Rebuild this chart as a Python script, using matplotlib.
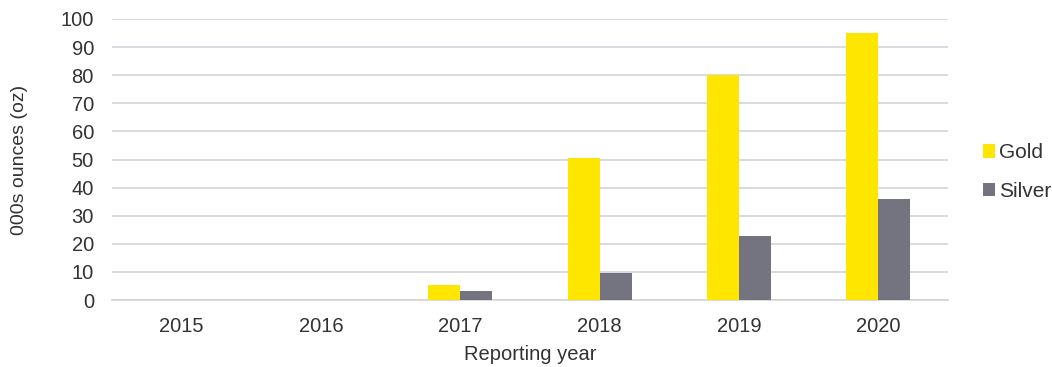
import matplotlib.pyplot as plt
import numpy as np

plt.rcParams['font.family'] = ['Liberation Sans', 'DejaVu Sans']

years = ['2015', '2016', '2017', '2018', '2019', '2020']
gold = [0, 0, 5.5, 50.6, 80, 95]
silver = [0, 0, 3.3, 9.5, 22.8, 36.0]

gold_color = '#FFE600'
silver_color = '#747480'
grid_color = '#D4D3DC'
text_color = '#333333'
fs = 14.5

fig = plt.figure(figsize=(10.52, 3.67), dpi=100)
ax = fig.add_axes([112 / 1052, 1 - 300 / 367, (948 - 112) / 1052, (300 - 19) / 367])

x = np.arange(len(years))
w = 0.23
ax.bar(x - w / 2, gold, width=w, color=gold_color, label='Gold', zorder=3)
ax.bar(x + w / 2, silver, width=w, color=silver_color, label='Silver', zorder=3)

ax.set_xlim(-0.5, len(years) - 0.5)
ax.set_ylim(0, 100)
ax.set_yticks(np.arange(0, 101, 10))
ax.set_xticks(x)
ax.set_xticklabels(years)
ax.yaxis.grid(True, color=grid_color, linewidth=1.2, zorder=0)
for s in ['top', 'right', 'left']:
    ax.spines[s].set_visible(False)
ax.spines['bottom'].set_color(grid_color)
ax.spines['bottom'].set_linewidth(1.2)
ax.tick_params(axis='y', length=0, labelsize=fs, colors=text_color, pad=13)
ax.tick_params(axis='x', length=0, labelsize=fs, colors=text_color, pad=12)

ax.set_xlabel('Reporting year', fontsize=fs, color=text_color)
ax.xaxis.set_label_coords(0.5, -0.16)
ax.set_ylabel('000s ounces (oz)', fontsize=fs - 0.5, color=text_color)
ax.yaxis.set_label_coords(-0.1, 0.5)

leg = ax.legend(loc='center left', bbox_to_anchor=(1.02, 0.455), frameon=False,
                fontsize=fs + 0.5, handlelength=0.55, handleheight=0.6,
                handletextpad=0.2, labelspacing=0.95)
for t in leg.get_texts():
    t.set_color(text_color)

fig.savefig('out.png', dpi=100)
